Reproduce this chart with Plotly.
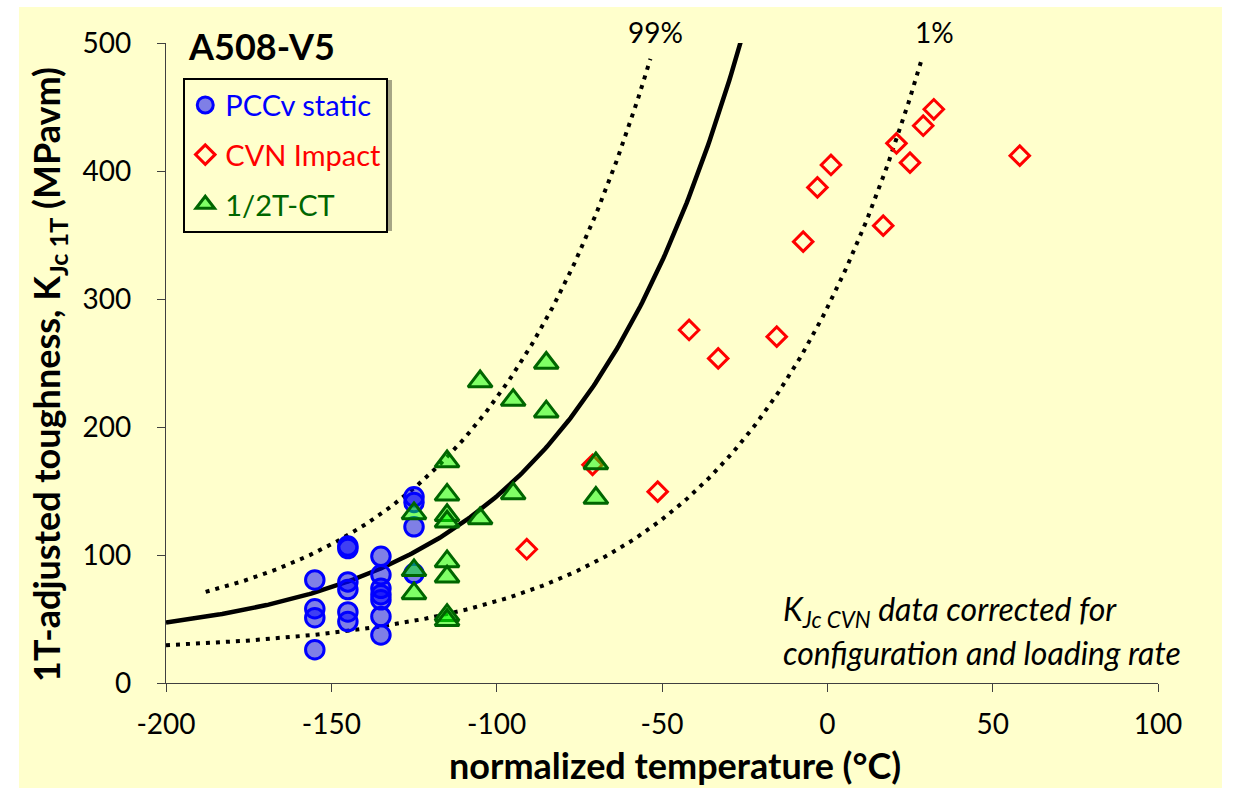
import numpy as np
import plotly.graph_objects as go

# ---------------- data ----------------
pccv_T = [-155, -155, -155, -155,
          -145, -145, -145, -145, -145, -145,
          -135, -135, -135, -135, -135, -135, -135,
          -125, -125, -125, -125]
pccv_K = [80.5, 58, 51, 26,
          107, 105, 79, 73, 55.5, 48,
          99, 84.5, 74, 69, 65, 52, 37.5,
          145.5, 141, 122, 85.5]

cvn_T = [-90.9, -71.0, -51.3, -41.8, -33.0, -15.3, -7.3, -3.0, 1.1,
         16.9, 20.9, 25.0, 29.0, 32.2, 58.2]
cvn_K = [104.5, 170.5, 149.5, 275.8, 253.6, 270.6, 344.8, 387.2, 404.7,
         357.3, 421.6, 406.5, 435.4, 448.2, 412.0]

ct_T = [-125, -125, -125,
        -115, -115, -115, -115, -115, -115, -115, -115,
        -105, -105, -95, -95, -85, -85, -70, -70]
ct_K = [132.5, 88, 70,
        173, 147, 131, 126, 95, 83, 53, 49,
        235.5, 128.5, 221, 148, 250, 212, 171.5, 144.5]

# Master Curve (ASTM E1921) parameters
T0 = -126.5
median_range = (-200, -25)
upper_range = (-188, -53.5)   # 99 % bound
lower_range = (-200, 28.3)    # 1 % bound

x_ticks = [-200, -150, -100, -50, 0, 50, 100]
x_tick_labels = ["-200", "-150", "-100", "-50", "0", "50", "100"]
y_ticks = [0, 100, 200, 300, 400, 500]
y_tick_labels = ["0", "100", "200", "300", "400", "500"]

# ---------------- curves ----------------
def median(t):
    return 30 + 70 * np.exp(0.019 * (t - T0))

def bound(t, p):
    return 20 + (np.log(1 / (1 - p))) ** 0.25 * (11 + 77 * np.exp(0.019 * (t - T0)))

t_med = np.linspace(*median_range, 300)
t_up = np.linspace(*upper_range, 300)
t_lo = np.linspace(*lower_range, 300)

FONT = "Lato"
BG = "#FFFFCC"
GREEN_D = "#006600"

fig = go.Figure()

fig.add_trace(go.Scatter(x=t_up, y=bound(t_up, 0.99), mode="lines",
                         line=dict(color="black", width=4, dash="4px,6px"),
                         showlegend=False, hoverinfo="skip"))
fig.add_trace(go.Scatter(x=t_lo, y=bound(t_lo, 0.01), mode="lines",
                         line=dict(color="black", width=4, dash="4px,6px"),
                         showlegend=False, hoverinfo="skip"))
fig.add_trace(go.Scatter(x=t_med, y=median(t_med), mode="lines",
                         line=dict(color="black", width=4.5),
                         showlegend=False, hoverinfo="skip"))

fig.add_trace(go.Scatter(
    x=pccv_T, y=pccv_K, mode="markers", legendgroup="a",
    name="<span style='color:#0000FF'>PCCv static</span>",
    marker=dict(symbol="circle", size=18.5, color="rgba(0,0,255,0.5)",
                line=dict(color="#0000FF", width=3))))
fig.add_trace(go.Scatter(
    x=cvn_T, y=cvn_K, mode="markers", legendgroup="b",
    name="<span style='color:#FF0000'>CVN Impact</span>",
    marker=dict(symbol="diamond-open", size=15, color="#FF0000",
                line=dict(color="#FF0000", width=3))))
fig.add_trace(go.Scatter(
    x=ct_T, y=ct_K, mode="markers", legendgroup="c",
    name="<span style='color:%s'>1/2T-CT</span>" % GREEN_D,
    marker=dict(symbol="triangle-up", size=21, color="rgba(0,255,0,0.5)",
                line=dict(color=GREEN_D, width=3))))

fig.update_layout(
    width=1233, height=788,
    margin=dict(l=166, r=75, t=43, b=105),
    paper_bgcolor="white", plot_bgcolor=BG,
    font=dict(family=FONT, size=28, color="black"),
    showlegend=True,
    legend=dict(x=0.0174, y=0.946, xanchor="left", yanchor="top",
                bgcolor=BG, bordercolor="black", borderwidth=2,
                font=dict(family=FONT, size=29), tracegroupgap=9,
                itemsizing="trace"),
    xaxis=dict(range=[-200, 100], tickvals=x_ticks, ticktext=x_tick_labels,
               showgrid=False, zeroline=False,
               showline=True, linecolor="#404040", linewidth=1.3,
               ticks="outside", ticklen=8, tickcolor="#404040", tickwidth=1.3,
               ticklabelstandoff=8, tickfont=dict(size=28)),
    yaxis=dict(range=[0, 500], tickvals=y_ticks, ticktext=y_tick_labels,
               showgrid=False, zeroline=False,
               showline=True, linecolor="#404040", linewidth=1.3,
               ticks="outside", ticklen=8, tickcolor="#404040", tickwidth=1.3,
               ticklabelstandoff=20, tickfont=dict(size=28)),
    shapes=[
        dict(type="rect", xref="paper", yref="paper", layer="below",
             x0=-0.1482, x1=1.0645, y0=-0.2, y1=1.05625,
             fillcolor=BG, line=dict(width=0)),
        # soft shadow behind the legend box
        dict(type="rect", xref="paper", yref="paper", layer="above",
             x0=(186 - 166) / 992, x1=(392 - 166) / 992,
             y0=(683 - 231) / 640, y1=(683 - 80) / 640,
             fillcolor="rgba(0,0,0,0.35)", line=dict(width=0)),
    ],
    annotations=[
        dict(text="<b>A508-V5</b>", xref="paper", yref="paper", x=0.020, y=0.9953,
             xanchor="left", yanchor="middle", showarrow=False,
             font=dict(size=36)),
        dict(text="99%", xref="x", yref="paper", x=-52.1, y=1.017,
             xanchor="center", yanchor="middle", showarrow=False),
        dict(text="1%", xref="x", yref="paper", x=32.5, y=1.017,
             xanchor="center", yanchor="middle", showarrow=False),
        dict(text="<i>K<sub>Jc CVN</sub> data corrected for</i>", xref="paper", yref="paper",
             x=0.6195, y=(683 - 611) / 640, xanchor="left", yanchor="middle", showarrow=False,
             font=dict(size=32)),
        dict(text="<i>configuration and loading rate</i>", xref="paper", yref="paper",
             x=0.6195, y=(683 - 652) / 640, xanchor="left", yanchor="middle", showarrow=False,
             font=dict(size=32)),
        dict(text="<b>normalized temperature (°C)</b>", xref="paper", yref="paper",
             x=(675 - 166) / 992, y=(683 - 765) / 640, xanchor="center", yanchor="middle",
             showarrow=False, font=dict(size=36)),
        dict(text="<b>1T-adjusted toughness, K<sub>Jc 1T</sub> (MPavm)</b>",
             xref="paper", yref="paper", textangle=-90,
             x=(48 - 166) / 992, y=(683 - 375) / 640, xanchor="center", yanchor="middle",
             showarrow=False, font=dict(size=36)),
    ],
)

fig.write_html("out.html")
